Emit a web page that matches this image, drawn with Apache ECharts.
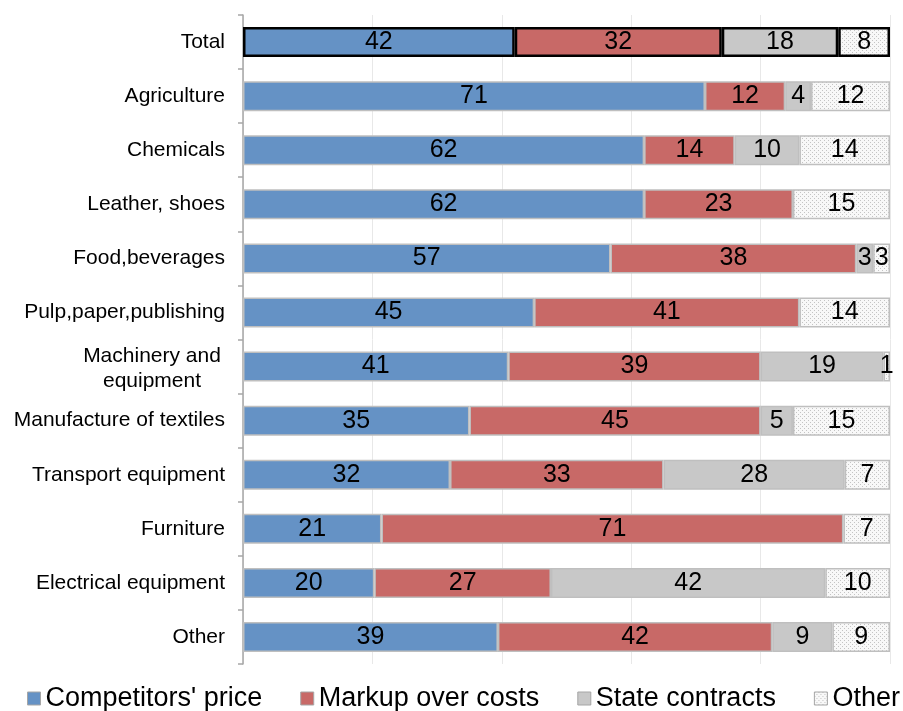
<!DOCTYPE html>
<html>
<head>
<meta charset="utf-8">
<script src="https://cdn.jsdelivr.net/npm/echarts@6/dist/echarts.min.js"></script>
<style>
html,body{margin:0;padding:0;background:#fff;}
#chart{width:903px;height:711px;}
</style>
</head>
<body>
<div id="chart"></div>
<script>
const categories = ['Total','Agriculture','Chemicals','Leather, shoes','Food,beverages','Pulp,paper,publishing','Machinery and\nequipment','Manufacture of textiles','Transport equipment','Furniture','Electrical equipment','Other'];
const seriesNames = ["Competitors' price",'Markup over costs','State contracts','Other'];
const competitorsPrice = [42, 71.4, 62, 62, 56.8, 45, 41, 35, 32, 21.4, 20.3, 39.4];
const markupOverCosts  = [32, 12.4, 14, 23, 38.0, 41, 39, 45, 33, 71.4, 27.3, 42.4];
const stateContracts   = [18, 4.0, 10, null, 2.6, null, 19, 5, 28, null, 42.4, 9.3];
const otherReasons     = [8, 12.2, 14, 15, 2.6, 14, 1, 15, 7, 7.2, 10.0, 8.9];
const xTicks = [0, 20, 40, 60, 80, 100];

const FONT = "'Liberation Sans', Arial, sans-serif";

// dotted pattern for "Other"
const pc = document.createElement('canvas');
pc.width = 4; pc.height = 4;
const pctx = pc.getContext('2d');
pctx.fillStyle = '#f8f8f8'; pctx.fillRect(0,0,4,4);
pctx.fillStyle = '#c4c4c4';
pctx.fillRect(0,0,1,1); pctx.fillRect(2,2,1,1);
const otherPattern = {image: pc, repeat: 'repeat'};

const colors = ['#6592c5', '#c86967', '#c8c8c8', otherPattern];
const allData = [competitorsPrice, markupOverCosts, stateContracts, otherReasons];

const chart = echarts.init(document.getElementById('chart'), null, {renderer:'canvas'});
const series = allData.map((arr, si) => ({
  name: seriesNames[si],
  type: 'bar',
  stack: 'all',
  barWidth: 30,
  itemStyle: {color: colors[si], borderColor: '#bfbfbf', borderWidth: 1.5},
  label: {
    show: true, position: 'inside', color: '#000',
    fontFamily: FONT, fontSize: 25,
    formatter: p => (p.value == null ? '' : String(Math.round(p.value)))
  },
  data: arr.map((v, i) => i === 0
    ? {value: v, itemStyle: {borderColor: '#000', borderWidth: 2.5}}
    : v)
}));

chart.setOption({
  animation: false,
  grid: {left: 243, right: 13, top: 15, bottom: 47, containLabel: false},
  legend: {
    left: 27, top: 685, width: 895, padding: 0,
    icon: 'rect',
    itemWidth: 13, itemHeight: 13, itemGap: 38,
    textStyle: {fontFamily: FONT, fontSize: 27, color: '#000'},
    data: seriesNames.map((n, i) => ({name: n, itemStyle: {color: colors[i], borderColor: '#a6a6a6', borderWidth: 1}}))
  },
  xAxis: {
    type: 'value', min: xTicks[0], max: xTicks[xTicks.length-1], interval: 20,
    axisLabel: {show: false}, axisLine: {show: false}, axisTick: {show: false},
    splitLine: {show: true, lineStyle: {color: '#e8e8e8', width: 1}}
  },
  yAxis: {
    type: 'category', inverse: true, data: categories,
    axisLine: {show: true, lineStyle: {color: '#a6a6a6', width: 1.5}},
    axisTick: {show: true, length: 5, lineStyle: {color: '#a6a6a6', width: 1.5}},
    axisLabel: {
      margin: 18, color: '#000',
      fontFamily: FONT, fontSize: 21,
      formatter: v => v.indexOf('\n') >= 0 ? v.split('\n').map(s => '{c|' + s + '}').join('\n') : v,
      rich: {c: {width: 146, align: 'center', fontSize: 21, color: '#000', fontFamily: FONT, lineHeight: 25, padding: [4, 0, 0, 0]}}
    }
  },
  series: series
});
</script>
</body>
</html>
